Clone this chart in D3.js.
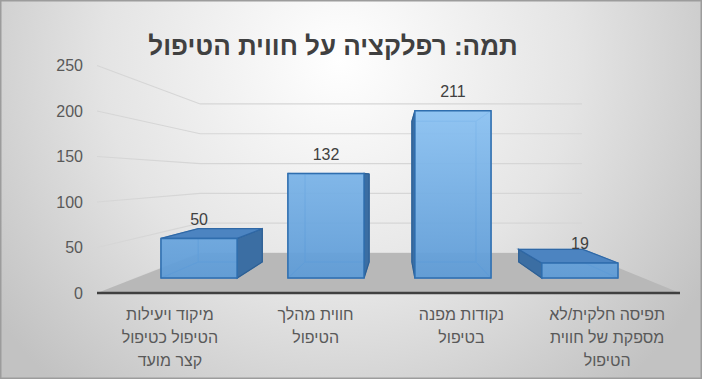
<!DOCTYPE html>
<html>
<head>
  <meta charset="utf-8">
  <title>תמה: רפלקציה על חווית הטיפול</title>
  <style>
    body { margin: 0; padding: 0; background: #fff; }
    svg { display: block; font-family: "Liberation Sans", Arial, sans-serif; }
  </style>
</head>
<body>
  <div id="chart"></div>
  <script src="https://d3js.org/d3.v7.min.js"></script>
  <script>
    // chart data
    const categories = [
      ["מיקוד ויעילות", "הטיפול כטיפול", "קצר מועד"],
      ["חווית מהלך", "הטיפול"],
      ["נקודות מפנה", "בטיפול"],
      ["תפיסה חלקית/לא", "מספקת של חווית", "הטיפול"]
    ];
    const values = [50, 132, 211, 19];
    const yTicks = [0, 50, 100, 150, 200, 250];
    const title = "תמה: רפלקציה על חווית הטיפול";

    const W = 702, H = 379;
    // perspective: vanishing point + depth factors (1 = front of floor)
    const vp = { x: 396, y: 177 };
    const sBack = 0.655, sBarFront = 0.871, sBarBack = 0.733;

    const svg = d3.select("#chart").append("svg")
      .attr("width", W).attr("height", H);

    const defs = svg.append("defs");
    const bg = defs.append("radialGradient").attr("id", "bg")
      .attr("gradientUnits", "userSpaceOnUse")
      .attr("cx", 340).attr("cy", 60).attr("r", 430);
    bg.append("stop").attr("offset", "0%").attr("stop-color", "#ffffff");
    bg.append("stop").attr("offset", "55%").attr("stop-color", "#e4e4e4");
    bg.append("stop").attr("offset", "100%").attr("stop-color", "#c2c2c2");

    const barGrad = defs.append("linearGradient").attr("id", "barGrad")
      .attr("gradientUnits", "userSpaceOnUse")
      .attr("x1", 0).attr("y1", 95).attr("x2", 0).attr("y2", 285);
    barGrad.append("stop").attr("offset", "0%").attr("stop-color", "#90c6f5");
    barGrad.append("stop").attr("offset", "100%").attr("stop-color", "#5b99d5");

    svg.append("rect").attr("x", 0.75).attr("y", 0.75)
      .attr("width", W - 1.5).attr("height", H - 1.5)
      .attr("fill", "url(#bg)").attr("stroke", "#9c9c9c").attr("stroke-width", 1.5);

    const x = d3.scaleBand().domain(d3.range(categories.length))
      .range([97, 680]).paddingInner(0.4).paddingOuter(0.2);
    const y = d3.scaleLinear().domain([0, 250]).range([293, 65.5]);

    const proj = (px, py, s) => [vp.x + (px - vp.x) * s, vp.y + (py - vp.y) * s];
    const line = d3.line();

    const x0 = x.range()[0], x1 = x.range()[1];

    // gridlines: left wall + back wall
    const grid = svg.append("g");
    yTicks.forEach(v => {
      const a = [x0, y(v)], b = proj(x0, y(v), sBack), c = proj(x1, y(v), sBack);
      grid.append("path").attr("d", line([a, b, c]))
        .attr("fill", "none").attr("stroke", "#d6d6d6").attr("stroke-width", 1.2);
    });

    // floor
    svg.append("path")
      .attr("d", line([[x0, y(0)], [x1, y(0)], proj(x1, y(0), sBack), proj(x0, y(0), sBack)]) + "Z")
      .attr("fill", "#b8b8b8");
    svg.append("line")
      .attr("x1", x0).attr("x2", x1).attr("y1", y(0)).attr("y2", y(0))
      .attr("stroke", "#404040").attr("stroke-width", 2.5);

    // y tick labels
    svg.append("g").selectAll("text").data(yTicks).join("text")
      .attr("x", 83).attr("y", d => y(d))
      .attr("text-anchor", "end").attr("dominant-baseline", "central")
      .attr("font-size", 16).attr("fill", "#595959")
      .text(d => d);

    // bars
    const bars = svg.append("g");
    values.forEach((v, i) => {
      const bx0 = x(i), bx1 = x(i) + x.bandwidth();
      const yt = y(v), yb = y(0);
      const F = (px, py) => proj(px, py, sBarFront);
      const B = (px, py) => proj(px, py, sBarBack);
      const poly = pts => line(pts) + "Z";
      const g = bars.append("g");
      const hidden = "#5f95cf";

      const back = [B(bx0, yt), B(bx1, yt), B(bx1, yb), B(bx0, yb)];
      const bottom = [F(bx0, yb), F(bx1, yb), B(bx1, yb), B(bx0, yb)];
      const left = [F(bx0, yt), B(bx0, yt), B(bx0, yb), F(bx0, yb)];
      const right = [F(bx1, yt), B(bx1, yt), B(bx1, yb), F(bx1, yb)];
      const top = [F(bx0, yt), F(bx1, yt), B(bx1, yt), B(bx0, yt)];
      const front = [F(bx0, yt), F(bx1, yt), F(bx1, yb), F(bx0, yb)];

      const centre = (F(bx0, yt)[0] + F(bx1, yt)[0]) / 2;
      const sideVis = centre < vp.x ? right : left;
      const sideHid = centre < vp.x ? left : right;
      const topVis = yt > vp.y;

      // inner (hidden) faces, seen through the translucent bar
      [back, bottom, sideHid].concat(topVis ? [] : [top]).forEach(f => {
        g.append("path").attr("d", poly(f))
          .attr("fill", "#6ea8e2").attr("fill-opacity", 0.35)
          .attr("stroke", hidden).attr("stroke-width", 1);
      });
      g.append("path").attr("d", poly(sideVis))
        .attr("fill", "#3b6ea3").attr("stroke", "#2d5f93").attr("stroke-width", 1.2);
      if (topVis) {
        g.append("path").attr("d", poly(top))
          .attr("fill", "#4c84c1").attr("stroke", "#2f68a6").attr("stroke-width", 1.2);
      }
      g.append("path").attr("d", poly(front))
        .attr("fill", "url(#barGrad)").attr("fill-opacity", 0.9)
        .attr("stroke", "#2f6eae").attr("stroke-width", 1.5);

      // value label
      svg.append("text")
        .attr("x", centre).attr("y", F(bx0, yt)[1] - 19)
        .attr("text-anchor", "middle").attr("dominant-baseline", "central")
        .attr("font-size", 16).attr("fill", "#404040")
        .text(v);
    });

    // category labels
    const cat = svg.append("g");
    categories.forEach((lines, i) => {
      const t = cat.append("text")
        .attr("x", x(i) + x.bandwidth() / 2)
        .attr("text-anchor", "middle").attr("direction", "rtl")
        .attr("font-size", 16).attr("fill", "#595959");
      lines.forEach((l, j) => {
        t.append("tspan").attr("x", x(i) + x.bandwidth() / 2)
          .attr("y", 314 + j * 23).attr("dominant-baseline", "central")
          .text(l);
      });
    });

    // title
    svg.append("text")
      .attr("x", 333).attr("y", 55)
      .attr("text-anchor", "middle").attr("direction", "rtl")
      .attr("font-size", 26).attr("font-weight", "bold").attr("fill", "#404040")
      .text(title);
  </script>
</body>
</html>
